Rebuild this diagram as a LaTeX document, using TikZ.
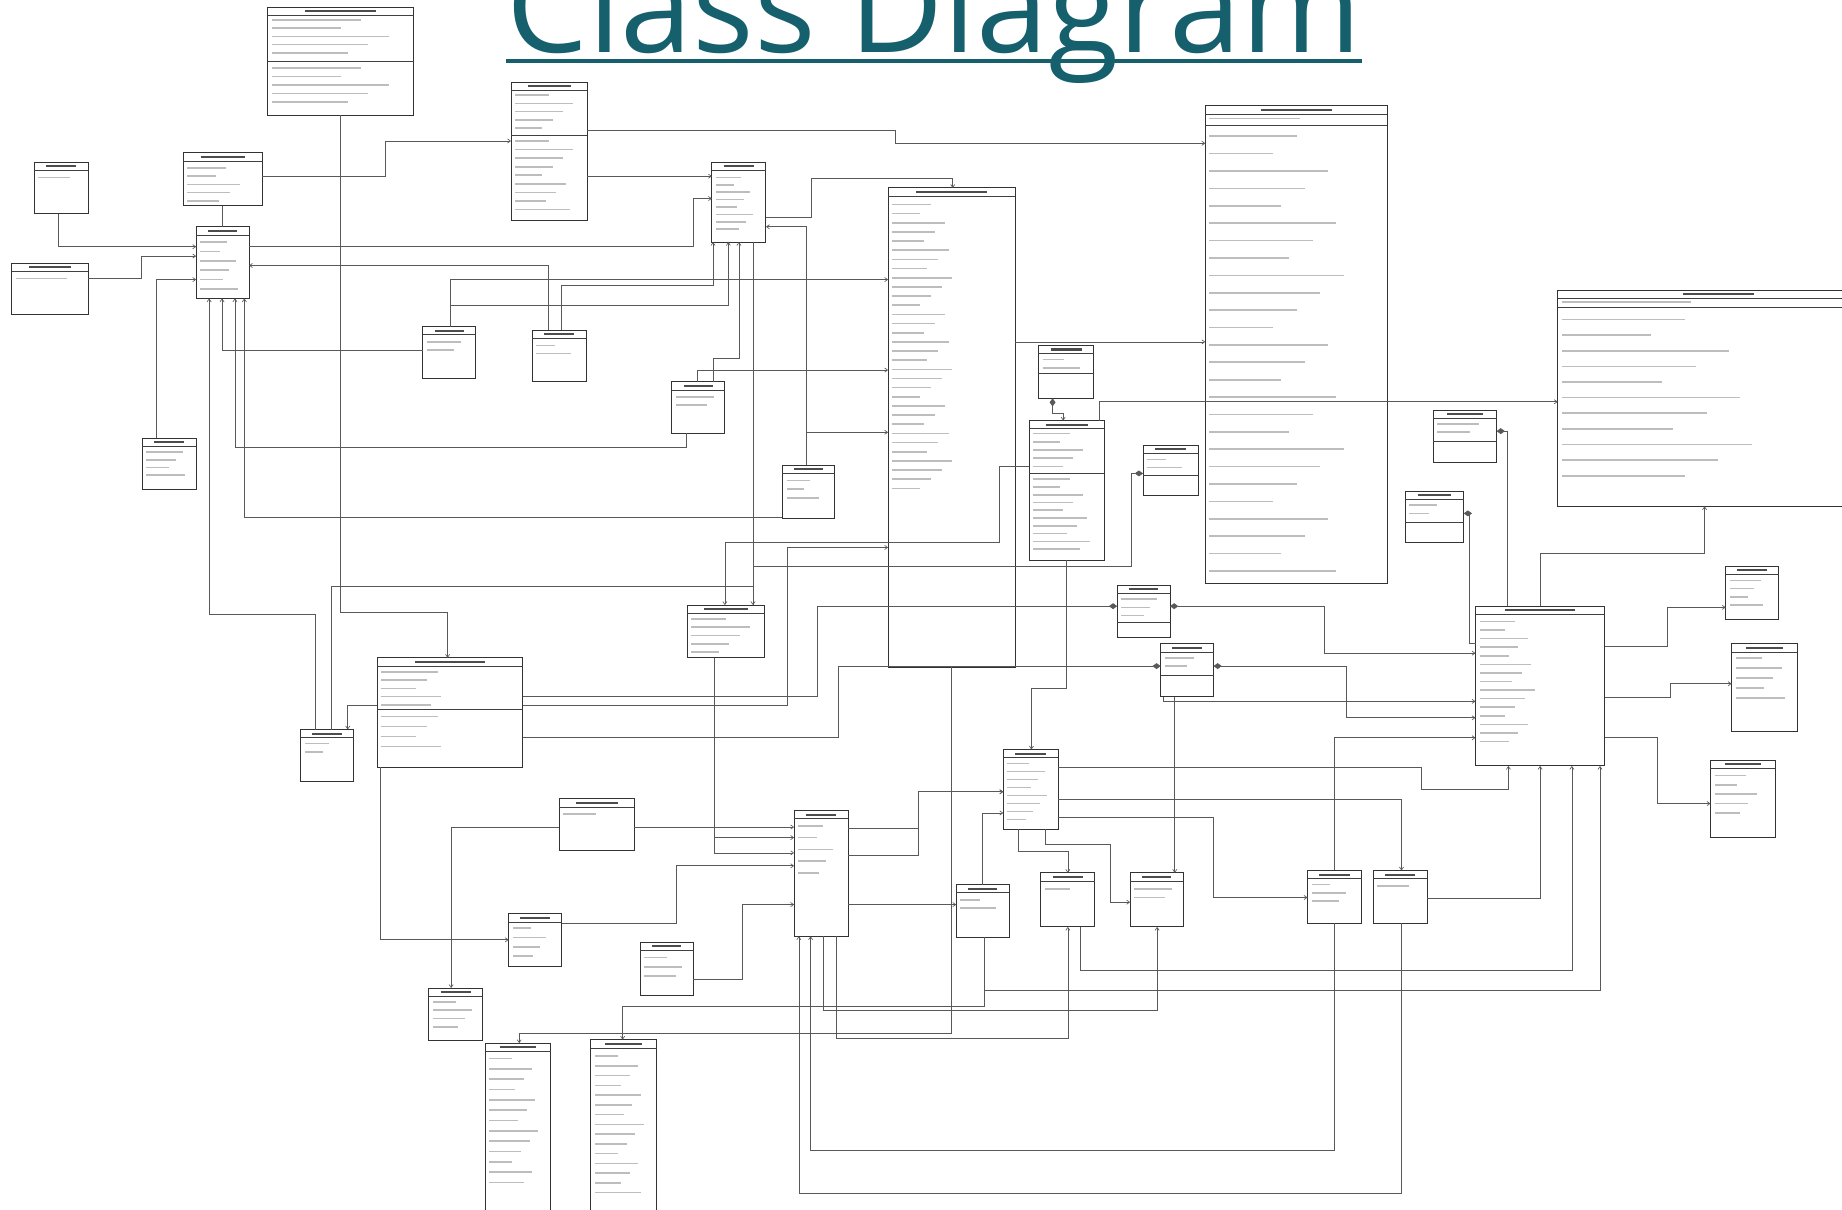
\documentclass[tikz,border=0pt]{standalone}
\usepackage{fontspec}
\setmainfont{Open Sans}
\usetikzlibrary{arrows.meta,fit}
\definecolor{titlec}{RGB}{22,96,110}
\tikzset{
 ubox/.style={draw=black!80, line width=0.8pt, inner sep=0pt, outer sep=0pt},
 hdr/.style={draw=black!75, line width=0.6pt},
 ttl/.style={draw=black!70, line width=1.8pt},
 tbar/.style={draw=black!26, line width=1.4pt},
 conn/.style={draw=black!65, line width=0.55pt},
 tip/.style={-{Straight Barb[length=2.5pt,width=3.5pt]}},
 stip/.style={{Straight Barb[length=2.5pt,width=3.5pt]}-},
 dend/.style={-{Diamond[length=7pt,width=5pt]}},
 dstart/.style={{Diamond[length=7pt,width=5pt]}-{Straight Barb[length=2.5pt,width=3.5pt]}},
}
\newcommand\ub[5]{%
  \node[ubox, fit={(#2,#3) (#4,#5)}] (#1) {};
  \pgfmathsetmacro\tw{min(0.28*(#4-#2),30)}%
  \pgfmathsetmacro\cx{(#2+#4)/2}%
  \draw[hdr] (#2,#3+7) -- (#4,#3+7);
  \draw[ttl] (\cx-\tw,#3+3.5) -- (\cx+\tw,#3+3.5);
}
\newcommand\tlines[5]{% x1 ystart n gap base
  \foreach \i in {1,...,#3}{%
    \pgfmathsetmacro\fr{0.40+0.05*mod(\i*7+#1,10)}%
    \draw[tbar] (#1+3.5,{#2+(\i-1)*#4}) -- ({#1+3.5+#5*\fr},{#2+(\i-1)*#4});
  }}
\newcommand\sepl[3]{\draw[hdr] (#1,#3) -- (#2,#3);}
\begin{document}
\begin{tikzpicture}[x=1pt,y=-1pt]
\useasboundingbox (0,0) rectangle (1568,1030);
\clip (0,0) rectangle (1568,1030);
\fill[white] (0,0) rectangle (1568,1030);
% title
\node[anchor=base west, inner sep=0pt, text=titlec, font=\fontsize{110}{110}\selectfont] (title) at (431,45) {Class Diagram};
\draw[titlec, line width=4pt] (title.west |- 0,52) -- (title.east |- 0,52);
% boxes
\ub{b1}{228}{6}{352}{98} \tlines{228}{17}{5}{7}{117} \sepl{228}{352}{52} \tlines{228}{58}{5}{7.2}{117}
\ub{b2}{435}{70}{500}{188} \tlines{435}{81}{5}{7}{58} \sepl{435}{500}{115} \tlines{435}{120}{9}{7.3}{58}
\ub{b3}{29}{138}{75}{182} \tlines{29}{151}{1}{7}{39}
\ub{b4}{156}{130}{223}{175} \tlines{156}{143}{5}{7}{60}
\ub{b5}{167}{193}{212}{254} \tlines{167}{206}{6}{8}{38}
\ub{b6}{10}{224}{75}{268} \tlines{10}{237}{1}{7}{58}
\ub{b7}{606}{138}{652}{206} \tlines{606}{151}{8}{6.3}{39}
\ub{b8}{756}{160}{864}{568} \tlines{756}{174}{32}{7.8}{60}
\ub{b9}{1026}{90}{1181}{497} \tlines{1026}{101}{1}{7}{140} \sepl{1026}{1181}{107} \tlines{1026}{116}{26}{14.8}{135}
\ub{b10}{1326}{247}{1600}{431} \tlines{1326}{257}{1}{7}{200} \sepl{1326}{1600}{262} \tlines{1326}{272}{11}{13.3}{190}
\ub{b11}{360}{278}{405}{322} \tlines{360}{291}{2}{7}{38}
\ub{b12}{453}{281}{499}{325} \tlines{453}{294}{2}{7}{39}
\ub{b13}{572}{325}{617}{369} \tlines{572}{338}{2}{7}{38}
\ub{b14}{884}{294}{931}{339} \tlines{884}{306}{2}{7}{40} \sepl{884}{931}{318}
\ub{b15}{876}{358}{940}{477} \tlines{876}{369}{5}{7}{57} \sepl{876}{940}{403} \tlines{876}{408}{10}{6.6}{57}
\ub{b16}{973}{379}{1020}{422} \tlines{973}{391}{2}{7}{40} \sepl{973}{1020}{405}
\ub{b17}{121}{373}{167}{417} \tlines{121}{385}{4}{6.5}{39}
\ub{b18}{666}{396}{710}{441} \tlines{666}{409}{3}{7.5}{37}
\ub{b19}{1220}{349}{1274}{394} \tlines{1220}{361}{2}{7}{47} \sepl{1220}{1274}{376}
\ub{b20}{1196}{418}{1246}{462} \tlines{1196}{430}{2}{7}{43} \sepl{1196}{1246}{445}
\ub{b21}{585}{515}{651}{560} \tlines{585}{527}{5}{7}{59}
\ub{b22}{951}{498}{996}{543} \tlines{951}{510}{3}{7}{38} \sepl{951}{996}{530}
\ub{b23}{988}{548}{1033}{593} \tlines{988}{560}{2}{7}{38} \sepl{988}{1033}{575}
\ub{b24}{1256}{516}{1366}{652} \tlines{1256}{529}{15}{7.3}{55}
\ub{b25}{1469}{482}{1514}{527} \tlines{1469}{494}{4}{7}{38}
\ub{b26}{1474}{548}{1530}{623} \tlines{1474}{560}{5}{8.5}{49}
\ub{b27}{1456}{647}{1511}{713} \tlines{1456}{660}{5}{8}{48}
\ub{b28}{321}{560}{445}{653} \tlines{321}{572}{5}{7}{60} \sepl{321}{445}{604} \tlines{321}{610}{4}{8.5}{60}
\ub{b29}{256}{621}{301}{665} \tlines{256}{633}{2}{7}{38}
\ub{b30}{854}{638}{901}{706} \tlines{854}{650}{8}{6.8}{40}
\ub{b31}{476}{680}{540}{724} \tlines{476}{693}{1}{7}{50}
\ub{b32}{676}{690}{722}{797} \tlines{676}{703}{5}{10}{39}
\ub{b33}{814}{753}{859}{798} \tlines{814}{766}{2}{7}{38}
\ub{b34}{886}{743}{932}{789} \tlines{886}{757}{1}{7}{38}
\ub{b35}{962}{743}{1007}{789} \tlines{962}{757}{2}{7}{38}
\ub{b36}{1113}{741}{1159}{786} \tlines{1113}{753}{3}{7}{39}
\ub{b37}{1169}{741}{1215}{786} \tlines{1169}{754}{1}{7}{38}
\ub{b38}{433}{778}{478}{823} \tlines{433}{790}{4}{8}{38}
\ub{b39}{545}{802}{590}{847} \tlines{545}{815}{3}{8}{38}
\ub{b40}{365}{841}{411}{886} \tlines{365}{853}{4}{7}{39}
\ub{b41}{413}{888}{469}{1040} \tlines{413}{901}{13}{8.8}{49}
\ub{b42}{503}{885}{559}{1040} \tlines{503}{899}{15}{8.3}{49}
% connectors
\draw[conn,tip] (290,0 |- b1.south) -- (290,521) -- (381,521) -- (381,0 |- b28.north);
\draw[conn,tip] (b2.east |- 0,111) -- (762,111) -- (762,122) -- (b9.west |- 0,122);
\draw[conn,tip] (b2.east |- 0,150) -- (b7.west |- 0,150);
\draw[conn,tip] (b4.east |- 0,150) -- (328,150) -- (328,120) -- (b2.west |- 0,120);
\draw[conn] (189,0 |- b4.south) -- (189,0 |- b5.north);
\draw[conn,tip] (50,0 |- b3.south) -- (50,210) -- (b5.west |- 0,210);
\draw[conn,tip] (b6.east |- 0,237) -- (120,237) -- (120,218) -- (b5.west |- 0,218);
\draw[conn,tip] (133,0 |- b17.north) -- (133,238) -- (b5.west |- 0,238);
\draw[conn,tip] (b5.east |- 0,210) -- (590,210) -- (590,169) -- (b7.west |- 0,169);
\draw[conn,stip] (b5.east |- 0,226) -- (467,226) -- (467,0 |- b12.north);
\draw[conn,tip] (383,0 |- b11.north) -- (383,238) -- (b8.west |- 0,238);
\draw[conn,tip] (478,0 |- b12.north) -- (478,243) -- (607,243) -- (607,0 |- b7.south);
\draw[conn,tip] (383,0 |- b11.north) -- (383,260) -- (620,260) -- (620,0 |- b7.south);
\draw[conn,tip] (607,0 |- b13.north) -- (607,305) -- (629,305) -- (629,0 |- b7.south);
\draw[conn,tip] (594,0 |- b13.north) -- (594,315) -- (b8.west |- 0,315);
\draw[conn,stip] (200,0 |- b5.south) -- (200,381) -- (584,381) -- (584,0 |- b13.south);
\draw[conn,stip] (189,0 |- b5.south) -- (189,298) -- (b11.west |- 0,298);
\draw[conn,stip] (178,0 |- b5.south) -- (178,523) -- (268,523) -- (268,0 |- b29.north);
\draw[conn,stip] (208,0 |- b5.south) -- (208,440) -- (b18.west |- 0,440);
\draw[conn,stip] (b7.east |- 0,193) -- (686,193) -- (686,0 |- b18.north);
\draw[conn,tip] (686,0 |- b18.north) -- (686,368) -- (b8.west |- 0,368);
\draw[conn,tip] (b7.east |- 0,185) -- (691,185) -- (691,152) -- (811,152) -- (811,0 |- b8.north);
\draw[conn] (641,0 |- b7.south) -- (641,0 |- b21.north);
\draw[conn,tip] (282,0 |- b29.north) -- (282,499) -- (641,499) -- (641,0 |- b21.north);
\draw[conn,tip] (b15.west |- 0,397) -- (851,397) -- (851,462) -- (617,462) -- (617,0 |- b21.north);
\draw[conn,dend] (641,0 |- b21.north) -- (641,482) -- (963,482) -- (963,403) -- (b16.west |- 0,403);
\draw[conn,tip] (b28.east |- 0,600) -- (670,600) -- (670,466) -- (b8.west |- 0,466);
\draw[conn,dend] (b28.east |- 0,593) -- (696,593) -- (696,516) -- (b22.west |- 0,516);
\draw[conn,dend] (b28.east |- 0,628) -- (714,628) -- (714,567) -- (b23.west |- 0,567);
\draw[conn,dstart] (b22.east |- 0,516) -- (1127,516) -- (1127,556) -- (b24.west |- 0,556);
\draw[conn,dstart] (b23.east |- 0,567) -- (1146,567) -- (1146,611) -- (b24.west |- 0,611);
\draw[conn,tip] (990,0 |- b23.south) -- (990,597) -- (b24.west |- 0,597);
\draw[conn,tip] (1000,0 |- b23.south) -- (1000,0 |- b35.north);
\draw[conn,stip] (b24.west |- 0,628) -- (1136,628) -- (1136,0 |- b36.north);
\draw[conn,tip] (1136,0 |- b36.south) -- (1136,979) -- (690,979) -- (690,0 |- b32.south);
\draw[conn,tip] (1193,0 |- b37.south) -- (1193,1016) -- (680,1016) -- (680,0 |- b32.south);
\draw[conn,tip] (b30.east |- 0,653) -- (1210,653) -- (1210,672) -- (1284,672) -- (1284,0 |- b24.south);
\draw[conn,tip] (b30.east |- 0,680) -- (1193,680) -- (1193,0 |- b37.north);
\draw[conn,tip] (b30.east |- 0,696) -- (1033,696) -- (1033,764) -- (b36.west |- 0,764);
\draw[conn,tip] (867,0 |- b30.south) -- (867,725) -- (909,725) -- (909,0 |- b34.north);
\draw[conn,tip] (890,0 |- b30.south) -- (890,719) -- (945,719) -- (945,768) -- (b35.west |- 0,768);
\draw[conn,tip] (908,0 |- b15.south) -- (908,586) -- (878,586) -- (878,0 |- b30.north);
\draw[conn,tip] (b32.east |- 0,705) -- (782,705) -- (782,674) -- (b30.west |- 0,674);
\draw[conn,tip] (b32.east |- 0,728) -- (782,728) -- (782,674) -- (b30.west |- 0,674);
\draw[conn,tip] (836,0 |- b33.north) -- (836,692) -- (b30.west |- 0,692);
\draw[conn,tip] (b32.east |- 0,770) -- (b33.west |- 0,770);
\draw[conn,tip] (701,0 |- b32.south) -- (701,860) -- (985,860) -- (985,0 |- b35.south);
\draw[conn,tip] (712,0 |- b32.south) -- (712,884) -- (909,884) -- (909,0 |- b34.south);
\draw[conn,tip] (810,0 |- b8.south) -- (810,880) -- (442,880) -- (442,0 |- b41.north);
\draw[conn,tip] (838,0 |- b33.south) -- (838,857) -- (530,857) -- (530,0 |- b42.north);
\draw[conn,tip] (838,0 |- b33.south) -- (838,843) -- (1362,843) -- (1362,0 |- b24.south);
\draw[conn,tip] (920,0 |- b34.south) -- (920,826) -- (1338,826) -- (1338,0 |- b24.south);
\draw[conn,tip] (b37.east |- 0,765) -- (1311,765) -- (1311,0 |- b24.south);
\draw[conn,tip] (b31.east |- 0,704) -- (b32.west |- 0,704);
\draw[conn,tip] (608,0 |- b21.south) -- (608,713) -- (b32.west |- 0,713);
\draw[conn,tip] (608,0 |- b21.south) -- (608,726) -- (b32.west |- 0,726);
\draw[conn,tip] (b38.east |- 0,786) -- (576,786) -- (576,737) -- (b32.west |- 0,737);
\draw[conn,tip] (b39.east |- 0,834) -- (632,834) -- (632,770) -- (b32.west |- 0,770);
\draw[conn,tip] (b31.west |- 0,704) -- (384,704) -- (384,0 |- b40.north);
\draw[conn,tip] (324,0 |- b28.south) -- (324,800) -- (b38.west |- 0,800);
\draw[conn,tip] (b28.west |- 0,600) -- (296,600) -- (296,0 |- b29.north);
\draw[conn,tip] (b24.east |- 0,550) -- (1419,550) -- (1419,517) -- (b25.west |- 0,517);
\draw[conn,tip] (b24.east |- 0,594) -- (1422,594) -- (1422,582) -- (b26.west |- 0,582);
\draw[conn,tip] (b24.east |- 0,628) -- (1411,628) -- (1411,684) -- (b27.west |- 0,684);
\draw[conn,tip] (1311,0 |- b24.north) -- (1311,471) -- (1451,471) -- (1451,0 |- b10.south);
\draw[conn,dend] (1283,0 |- b24.north) -- (1283,367) -- (b19.east |- 0,367);
\draw[conn,dend] (b24.west |- 0,548) -- (1251,548) -- (1251,437) -- (b20.east |- 0,437);
\draw[conn,dstart] (896,0 |- b14.south) -- (896,352) -- (905,352) -- (905,0 |- b15.north);
\draw[conn,tip] (936,0 |- b15.north) -- (936,342) -- (b10.west |- 0,342);
\draw[conn,tip] (b8.east |- 0,291) -- (b9.west |- 0,291);
\end{tikzpicture}
\end{document}
